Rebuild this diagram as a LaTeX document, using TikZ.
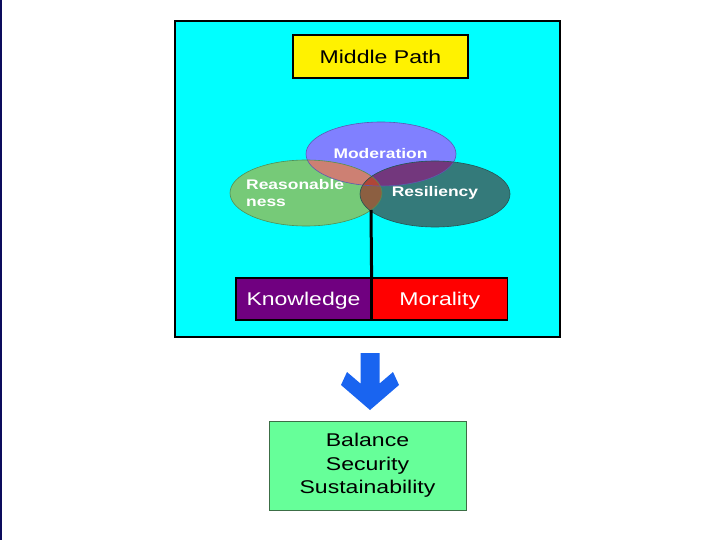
\documentclass[tikz,border=0pt]{standalone}
\usepackage{fontspec}
\setmainfont{Liberation Sans}[FakeStretch=1.25]
\usetikzlibrary{positioning}
\definecolor{edgenavy}{RGB}{12,12,92}
\definecolor{framecyan}{RGB}{0,255,255}
\definecolor{modblue}{RGB}{128,128,255}
\definecolor{reasgreen}{RGB}{118,202,120}
\definecolor{resilteal}{RGB}{52,122,122}
\definecolor{mrsalmon}{RGB}{205,128,115}
\definecolor{mspurple}{RGB}{115,55,125}
\definecolor{rsbrown}{RGB}{140,95,65}
\definecolor{allred}{RGB}{175,70,55}
\definecolor{knowpurple}{RGB}{112,0,128}
\definecolor{arrowblue}{RGB}{25,100,240}
\definecolor{resultgreen}{RGB}{102,255,153}
\definecolor{resultedge}{RGB}{60,110,70}
\begin{document}
\begin{tikzpicture}[x=1bp,y=-1bp,
  box/.style={draw=black,line width=1.2bp,inner sep=0pt,font=\fontsize{18.5}{22}\selectfont},
  circlelabel/.style={text=white,inner sep=0pt,font=\bfseries\fontsize{14}{17.4}\selectfont}]
\useasboundingbox (0,0) rectangle (720,540);
\fill[edgenavy] (0,0) rectangle (2,540);
% framed path
\node[draw=black,line width=2bp,fill=framecyan,minimum width=385bp,minimum height=316bp] (frame) at (367.5,179) {};
\node[box,fill=yellow,minimum width=175bp,minimum height=43bp] (path) at (380.5,56.5) {Middle Path};
% three circles
\fill[modblue] (381,154) ellipse [x radius=75,y radius=32];
\fill[reasgreen] (306,193) ellipse [x radius=76,y radius=33];
\fill[resilteal] (435,194) ellipse [x radius=75,y radius=33];
\begin{scope}
\clip (381,154) ellipse [x radius=75,y radius=32];
\fill[mrsalmon] (306,193) ellipse [x radius=76,y radius=33];
\fill[mspurple] (435,194) ellipse [x radius=75,y radius=33];
\end{scope}
\begin{scope}
\clip (306,193) ellipse [x radius=76,y radius=33];
\fill[rsbrown] (435,194) ellipse [x radius=75,y radius=33];
\clip (381,154) ellipse [x radius=75,y radius=32];
\fill[allred] (435,194) ellipse [x radius=75,y radius=33];
\end{scope}
\draw[modblue!70!black,line width=0.6bp] (381,154) ellipse [x radius=75,y radius=32];
\draw[reasgreen!70!black,line width=0.6bp] (306,193) ellipse [x radius=76,y radius=33];
\draw[resilteal!70!black,line width=0.6bp] (435,194) ellipse [x radius=75,y radius=33];
\node[circlelabel,anchor=base] (moderation) at (380.5,159) {Moderation};
\node[circlelabel,anchor=west,align=left] (reasonable) at (246,193) {Reasonable\\ness};
\node[circlelabel,anchor=base] (resiliency) at (435,197) {Resiliency};
% two conditions
\node[box,fill=knowpurple,text=white,minimum width=135bp,minimum height=42bp,text height=13bp,text depth=0pt] (know) at (303.5,299) {Knowledge};
\node[box,fill=red,text=white,minimum width=135bp,minimum height=42bp,text height=13bp,text depth=0pt,right=0pt of know] (moral) {Morality};
\coordinate (stem) at (371,210);
\draw[line width=3bp] (stem) -- (know.north east);
% outcome
\coordinate (arrowtop) at (370,353);
\fill[arrowblue,shift={(arrowtop)}] (-9.5,0) -- (9.5,0) -- (9.5,30.6) -- (23,19) -- (29,32) -- (0,57) -- (-29,32) -- (-23,19) -- (-9.5,30.6) -- cycle;
\node[box,draw=resultedge,line width=1bp,fill=resultgreen,minimum width=197bp,minimum height=89bp,align=center,font=\fontsize{18.5}{23.8}\selectfont] (result) at (367.5,465.5) {Balance\\Security\\Sustainability};
\end{tikzpicture}
\end{document}
